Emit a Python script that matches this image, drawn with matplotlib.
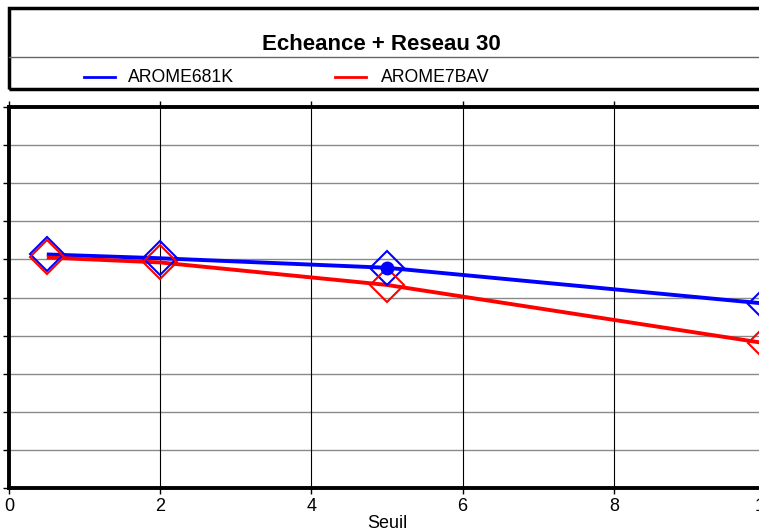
import matplotlib
matplotlib.use("Agg")
import matplotlib.pyplot as plt
from matplotlib.patches import Rectangle
from matplotlib.lines import Line2D

plt.rcParams['font.family'] = ['Liberation Sans', 'DejaVu Sans']

# Scores by threshold
seuil = [0.5, 2, 5, 10]
arome681k = [0.613, 0.603, 0.578, 0.484]
arome7bav = [0.605, 0.592, 0.533, 0.380]
series_names = ["AROME681K", "AROME7BAV"]
series_colors = ["#0000ff", "#ff0000"]
title = "Echeance + Reseau 30"
xticks = [0, 2, 4, 6, 8, 10]
yticks = [i / 10 for i in range(11)]

W, H = 759, 530
fig = plt.figure(figsize=(W / 100, H / 100), dpi=100)

# Main axes (extends slightly beyond the right edge of the canvas)
left, right, top, bottom = 9, 765, 107, 488
ax = fig.add_axes([left / W, 1 - bottom / H, (right - left) / W, (bottom - top) / H])
ax.set_xlim(0, 10)
ax.set_ylim(0, 1)
ax.set_xticks(xticks)
ax.set_yticks(yticks)
ax.tick_params(axis='both', direction='out', length=4, width=1, colors='black',
               labelsize=13, top=True, labelleft=False, pad=3)
for s in ax.spines.values():
    s.set_linewidth(2.8)
ax.grid(False)
for yv in yticks[1:-1]:
    ax.axhline(yv, color='#8a8a8a', lw=1.0, zorder=1)
for xv in xticks[1:-1]:
    ax.axvline(xv, color='black', lw=0.8, zorder=1)

ax.set_xlabel("Seuil", fontsize=13, labelpad=0)

for vals, col in zip([arome681k, arome7bav], series_colors):
    ax.plot(seuil, vals, color=col, lw=2.8, zorder=3, solid_capstyle='butt')
    ax.plot(seuil, vals, linestyle='none', marker='D', markersize=17,
            markerfacecolor='none', markeredgecolor=col, markeredgewidth=1.5, zorder=4)

# Highlighted point on the first series
hi = seuil.index(5)
ax.plot([seuil[hi]], [arome681k[hi]], linestyle='none', marker='o', markersize=9,
        color=series_colors[0], zorder=5)

# Title / legend box
box_top, box_bot, divider = 8, 89, 57
fig.patches.append(Rectangle((left / W, 1 - box_bot / H), 1.2, (box_bot - box_top) / H,
                             transform=fig.transFigure, fill=False, lw=2.5,
                             edgecolor='black', clip_on=False))
fig.lines.append(Line2D([left / W, 1], [1 - divider / H] * 2, transform=fig.transFigure,
                        color='#666666', lw=1))
fig.text(381 / W, 1 - 44 / H, title, ha='center', va='center',
         fontsize=16, fontweight='bold')

leg_y = 1 - 77 / H
for (x0, x1, tx), name, col in zip([(84, 115, 128), (335, 366, 381)], series_names, series_colors):
    fig.lines.append(Line2D([x0 / W, x1 / W], [leg_y] * 2, transform=fig.transFigure,
                            color=col, lw=2))
    fig.text(tx / W, leg_y, name, ha='left', va='center', fontsize=12.7)

fig.savefig("out.png", dpi=100)
